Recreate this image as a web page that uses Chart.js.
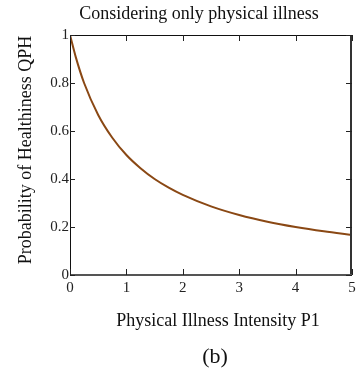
<!DOCTYPE html>
<html>
<head>
<meta charset="utf-8">
<script src="https://cdn.jsdelivr.net/npm/chart.js@4/dist/chart.umd.min.js"></script>
<style>
  html, body { margin: 0; padding: 0; background: #fff; }
  #wrap { width: 361px; height: 371px; position: relative; }
</style>
</head>
<body>
<div id="wrap"><canvas id="c" width="361" height="371"></canvas></div>
<script>
// ── data ──
const intensityP1 = [0, 0.1, 0.25, 0.5, 0.75, 1, 1.25, 1.5, 1.75, 2, 2.5, 3, 3.5, 4, 4.5, 5];
const healthQPH   = [1.0, 0.91, 0.80, 0.667, 0.572, 0.50, 0.445, 0.40, 0.364, 0.334, 0.286, 0.25, 0.222, 0.20, 0.182, 0.167];
const xTicks = [0, 1, 2, 3, 4, 5];
const yTicks = [0, 0.2, 0.4, 0.6, 0.8, 1];

const titleText   = 'Considering only physical illness';
const xTitleText  = 'Physical Illness Intensity P1';
const yTitleText  = 'Probability of Healthiness QPH';
const captionText = '(b)';

const SERIF = '"Liberation Serif", "Times New Roman", serif';

// 坐标框 + 朝内刻度 + 文字
const framePlugin = {
  id: 'frame',
  afterDraw(chart) {
    const { ctx, chartArea: a, scales } = chart;
    const xs = scales.x, ys = scales.y;
    ctx.save();
    ctx.strokeStyle = '#111';
    ctx.lineWidth = 1;
    ctx.beginPath();
    ctx.moveTo(a.left + 0.5, a.bottom); ctx.lineTo(a.left + 0.5, a.top + 0.5);
    ctx.lineTo(a.right - 0.5, a.top + 0.5);
    ctx.stroke();
    ctx.strokeStyle = '#333';
    ctx.lineWidth = 2;
    ctx.beginPath();
    ctx.moveTo(a.right - 1, a.top); ctx.lineTo(a.right - 1, a.bottom);
    ctx.stroke();
    ctx.strokeStyle = '#555';
    ctx.beginPath();
    ctx.moveTo(a.left, a.bottom); ctx.lineTo(a.right, a.bottom);
    ctx.stroke();

    ctx.strokeStyle = '#222';
    ctx.lineWidth = 1;
    ctx.beginPath();
    xTicks.forEach(v => {
      const px = Math.round(xs.getPixelForValue(v)) + 0.5;
      ctx.moveTo(px, a.bottom); ctx.lineTo(px, a.bottom - 6);
      ctx.moveTo(px, a.top); ctx.lineTo(px, a.top + 6);
    });
    yTicks.forEach(v => {
      const py = Math.round(ys.getPixelForValue(v)) + 0.5;
      ctx.moveTo(a.left, py); ctx.lineTo(a.left + 5, py);
      ctx.moveTo(a.right, py); ctx.lineTo(a.right - 6, py);
    });
    ctx.stroke();

    ctx.fillStyle = '#111';
    ctx.textAlign = 'center';
    ctx.textBaseline = 'middle';
    ctx.font = '18px ' + SERIF;
    ctx.fillText(titleText, 199, 14);
    ctx.fillText(xTitleText, 218, 321);
    ctx.font = '22px ' + SERIF;
    ctx.fillText(captionText, 215, 357);
    ctx.save();
    ctx.translate(26, 150);
    ctx.rotate(-Math.PI / 2);
    ctx.font = '18px ' + SERIF;
    ctx.fillText(yTitleText, 0, 0);
    ctx.restore();
    ctx.restore();
  }
};

new Chart(document.getElementById('c'), {
  type: 'line',
  data: {
    datasets: [{
      data: intensityP1.map((x, i) => ({ x, y: healthQPH[i] })),
      borderColor: '#8a4814',
      borderWidth: 2,
      pointRadius: 0,
      cubicInterpolationMode: 'monotone',
      fill: false,
    }],
  },
  options: {
    responsive: false,
    animation: false,
    events: [],
    layout: { padding: { top: 35, right: 9, left: 0, bottom: 0 } },
    plugins: { legend: { display: false }, tooltip: { enabled: false }, title: { display: false } },
    scales: {
      x: {
        type: 'linear', min: 0, max: 5,
        afterBuildTicks: s => { s.ticks = xTicks.map(v => ({ value: v })); },
        afterFit: s => { s.height = 371 - 275; },
        grid: { display: false, drawTicks: false },
        border: { display: false },
        ticks: { color: '#222', padding: 4, maxRotation: 0, font: { family: SERIF, size: 15 } },
      },
      y: {
        min: 0, max: 1,
        afterBuildTicks: s => { s.ticks = yTicks.map(v => ({ value: v })); },
        afterFit: s => { s.width = 70; },
        grid: { display: false, drawTicks: false },
        border: { display: false },
        ticks: {
          color: '#222', padding: 1, font: { family: SERIF, size: 15 },
          callback: v => String(+v.toFixed(1)),
        },
      },
    },
  },
  plugins: [framePlugin],
});
</script>
</body>
</html>
